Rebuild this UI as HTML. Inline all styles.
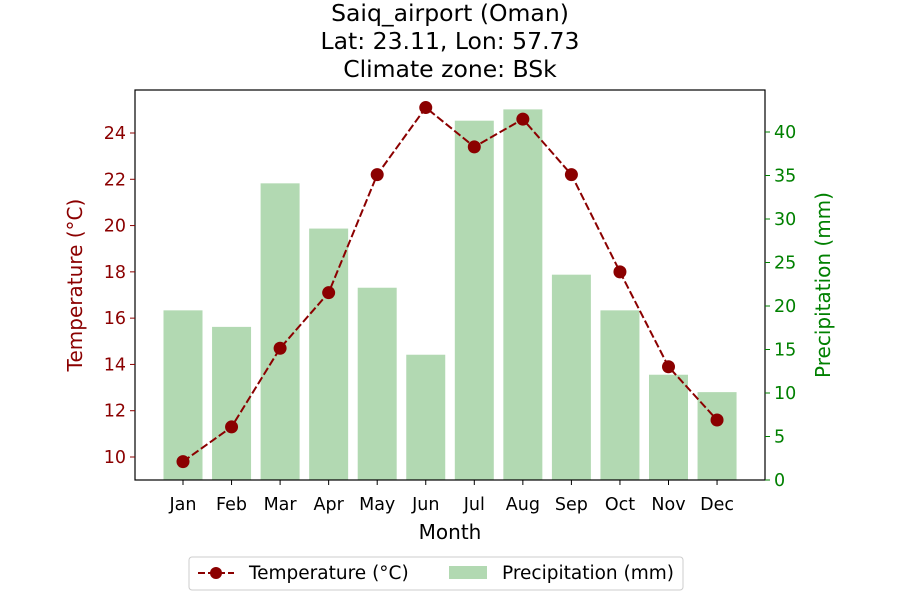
<!DOCTYPE html>
<html><head><meta charset="utf-8">
<style>
body{margin:0;background:#fff;font-family:"Liberation Sans","DejaVu Sans",sans-serif;}
svg text{font-family:"DejaVu Sans","Liberation Sans",sans-serif;}
</style></head>
<body>
<svg id="chart" width="900" height="600" viewBox="0 0 900 600" xmlns="http://www.w3.org/2000/svg">
<rect width="900" height="600" fill="#fff"/>
<g font-size="23.5" text-anchor="middle" fill="#000">
<text x="450" y="21">Saiq_airport (Oman)</text>
<text x="450" y="49">Lat: 23.11, Lon: 57.73</text>
<text x="450" y="77">Climate zone: BSk</text>
</g>
<g id="bars"></g><g id="line"></g><g id="axes"></g>
<g>
<rect x="189" y="557" width="494" height="33" rx="3" fill="#fff" stroke="#ccc"/>
<line x1="198" y1="573" x2="234" y2="573" stroke="#8b0000" stroke-width="2" stroke-dasharray="7,3"/>
<circle cx="216" cy="573" r="6" fill="#8b0000"/>
<text x="249" y="579" font-size="18.5">Temperature (°C)</text>
<rect x="449" y="566" width="38" height="13" fill="#008000" fill-opacity="0.3"/>
<text x="502" y="579" font-size="18.5">Precipitation (mm)</text>
</g>
</svg>
<script>
const months=["Jan","Feb","Mar","Apr","May","Jun","Jul","Aug","Sep","Oct","Nov","Dec"];
const temperature=[9.8,11.3,14.7,17.1,22.2,25.1,23.4,24.6,22.2,18.0,13.9,11.6];
const precipitation=[19.5,17.6,34.1,28.9,22.1,14.4,41.3,42.6,23.6,19.5,12.1,10.1];
const tempTicks=[10,12,14,16,18,20,22,24];
const precTicks=[0,5,10,15,20,25,30,35,40];
const NS="http://www.w3.org/2000/svg";
const L=135,R=765,T=90,B=480;
const xS=i=>183+i*48.55;
const yT=v=>457-(v-10)*23.143;
const yP=v=>480-v*8.7;
function mk(tag,attrs,parent,txt){const e=document.createElementNS(NS,tag);for(const k in attrs)e.setAttribute(k,attrs[k]);if(txt!==undefined)e.textContent=txt;parent.appendChild(e);return e;}
const gb=document.getElementById('bars'),gl=document.getElementById('line'),ga=document.getElementById('axes');
precipitation.forEach((v,i)=>{const r=mk('rect',{x:xS(i)-19.5,y:yP(v),width:39,height:B-yP(v),fill:'#008000','fill-opacity':0.3},gb);

});
const pts=temperature.map((v,i)=>xS(i)+','+yT(v)).join(' ');
const pl=mk('polyline',{points:pts,fill:'none',stroke:'#8b0000','stroke-width':2,'stroke-dasharray':'8,3'},gl);


temperature.forEach((v,i)=>{const c=mk('circle',{cx:xS(i),cy:yT(v),r:6.5,fill:'#8b0000'},gl);

});
const frame=mk('rect',{x:L,y:T,width:R-L,height:B-T,fill:'none',stroke:'#000','stroke-width':1.2},ga);


tempTicks.forEach(v=>{const y=yT(v);mk('line',{x1:L-5,x2:L,y1:y,y2:y,stroke:'#8b0000'},ga);
const t=mk('text',{x:L-9,y:y+6,'font-size':17.5,'text-anchor':'end',fill:'#8b0000'},ga,v);

});
precTicks.forEach(v=>{const y=yP(v);mk('line',{x1:R,x2:R+5,y1:y,y2:y,stroke:'#008000'},ga);
const t=mk('text',{x:R+9,y:y+6,'font-size':17.5,fill:'#008000'},ga,v);

});
months.forEach((m,i)=>{const x=xS(i);mk('line',{x1:x,x2:x,y1:B,y2:B+5,stroke:'#000'},ga);
const t=mk('text',{x:x,y:B+30,'font-size':17.5,'text-anchor':'middle'},ga,m);

});
const xt=mk('text',{x:450,y:539,'font-size':20,'text-anchor':'middle'},ga,'Month');


const yl=mk('text',{x:0,y:0,'font-size':20,'text-anchor':'middle',fill:'#8b0000',transform:'translate(82,285) rotate(-90)'},ga,'Temperature (°C)');


const yr=mk('text',{x:0,y:0,'font-size':20,'text-anchor':'middle',fill:'#008000',transform:'translate(830,285) rotate(-90)'},ga,'Precipitation (mm)');


</script>
</body></html>
